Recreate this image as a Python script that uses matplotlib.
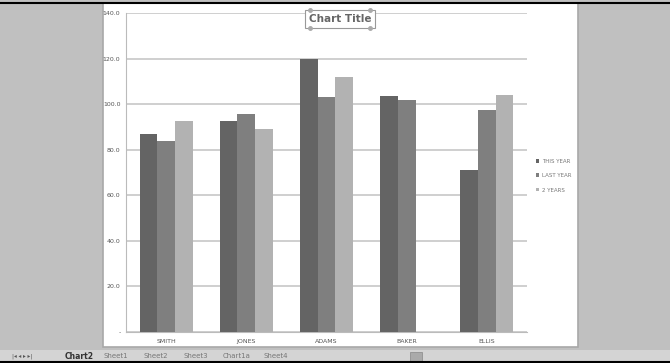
import matplotlib.pyplot as plt
import numpy as np
from matplotlib.patches import Rectangle

# data
names = ["SMITH", "JONES", "ADAMS", "BAKER", "ELLIS"]
this_year = [86.9, 92.7, 120.0, 103.7, 71.0]
last_year = [83.9, 95.6, 103.3, 101.8, 97.4]
two_years = [92.7, 89.0, 111.8, None, 104.0]
series_names = ["THIS YEAR", "LAST YEAR", "2 YEARS"]
colors = ["#646464", "#7f7f7f", "#b2b2b2"]
sheet_tabs = ["Chart2", "Sheet1", "Sheet2", "Sheet3", "Chart1a", "Sheet4"]

W, H = 670, 363
fig = plt.figure(figsize=(6.7, 3.63), dpi=100, facecolor="#c0c0c0")

def px(x, y, w, h):
    return [x / W, 1 - (y + h) / H, w / W, h / H]

# white chart area
fig.patches.append(Rectangle((103 / W, 1 - 347 / H), 475 / W, 344 / H,
                             transform=fig.transFigure, facecolor="white",
                             edgecolor="#a8a8a8", lw=1.2, zorder=0))
# top black line
fig.add_artist(plt.Line2D([0, 1], [1 - 2.5 / H] * 2, color="black", lw=1.5,
                          transform=fig.transFigure))
# sheet tab bar
fig.patches.append(Rectangle((0, 0), 1, 13 / H, transform=fig.transFigure,
                             facecolor="#d4d4d4", edgecolor="none", zorder=0))
fig.add_artist(plt.Line2D([0, 1], [0.8 / H] * 2, color="black", lw=1.5,
                          transform=fig.transFigure))
fig.text(12 / W, 6.5 / H, "|◂ ◂ ▸ ▸|", fontsize=4, color="#555555", va="center")
tx = 65
for i, t in enumerate(sheet_tabs):
    fig.text(tx / W, 6.5 / H, t, fontsize=5.5 if i == 0 else 5,
             color="#333333" if i == 0 else "#777777",
             fontweight="bold" if i == 0 else "normal", va="center")
    tx += 38 if i == 0 else 40
fig.patches.append(Rectangle((410 / W, 2 / H), 12 / W, 9 / H,
                             transform=fig.transFigure, facecolor="#aaaaaa",
                             edgecolor="#888888", lw=0.5))

ax = fig.add_axes(px(126, 13, 401, 319))
ax.set_zorder(5)
ax.set_facecolor("white")
x = np.arange(len(names))
bw = 0.22
for k, (vals, c) in enumerate(zip([this_year, last_year, two_years], colors)):
    xs = [xi + (k - 1) * bw for xi, v in zip(x, vals) if v is not None]
    vs = [v for v in vals if v is not None]
    ax.bar(xs, vs, width=bw, color=c, zorder=3, label=series_names[k])

ax.set_xlim(-0.5, len(names) - 0.5)
ax.set_ylim(0, 140)
ax.set_yticks(np.arange(0, 141, 20))
ax.set_yticklabels(["-"] + ["%.1f" % v for v in np.arange(20, 141, 20)])
ax.set_xticks(x)
ax.set_xticklabels(names)
ax.tick_params(axis="both", labelsize=4.5, colors="#555555", length=0, pad=5)
ax.tick_params(axis="y", pad=4)
ax.grid(axis="y", color="#cfcfcf", lw=1.4, zorder=0)
for s in ["top", "right"]:
    ax.spines[s].set_visible(False)
ax.spines["left"].set_color("#bbbbbb")
ax.spines["bottom"].set_color("#bbbbbb")

# title with selection box
fig.text(340 / W, 1 - 19 / H, "Chart Title", fontsize=7.5, fontweight="bold",
         color="#666666", ha="center", va="center", zorder=6,
         bbox=dict(boxstyle="square,pad=0.35", facecolor="white",
                   edgecolor="#999999", lw=0.8))
for hx, hy in [(310, 10), (370, 10), (310, 28), (370, 28)]:
    fig.add_artist(plt.Line2D([hx / W], [1 - hy / H], marker="o", ms=2.5,
                              color="#aaaaaa", transform=fig.transFigure,
                              zorder=7))

leg = ax.legend(loc="center left", bbox_to_anchor=(1.01, 0.49), frameon=False,
                fontsize=4, handlelength=0.6, handleheight=0.6,
                handletextpad=0.4, labelspacing=1.7)
for t in leg.get_texts():
    t.set_color("#777777")

fig.savefig("out.png", dpi=100, facecolor=fig.get_facecolor())
